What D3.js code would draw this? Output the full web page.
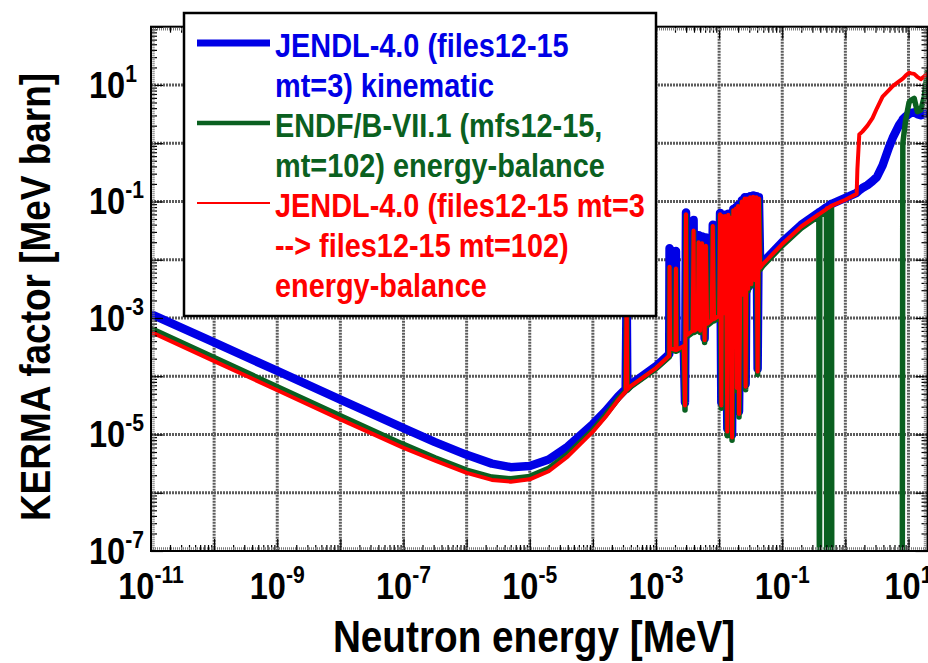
<!DOCTYPE html>
<html>
<head>
<meta charset="utf-8">
<script src="https://cdn.jsdelivr.net/npm/d3@7"></script>
<style>
  body { margin: 0; background: #fff; }
  text { font-family: "Liberation Sans", Arial, sans-serif; font-weight: bold; }
</style>
</head>
<body>
<div id="chart"></div>
<script>
var width = 928,
    height = 663;

// plot frame (pixels)
var frameLeft = 151, frameRight = 927.5, frameTop = 26.7, frameBottom = 551;

// neutron energy grid [MeV], shared by the three curves
var energy = [
  1e-11, 1e-10, 1e-9, 1e-8, 1e-7, 3.16e-7, 1e-6, 2.51e-6, 5.01e-6, 1e-5,
  2.0e-5, 3.98e-5, 1e-4, 1.58e-4, 2.51e-4, 3.31e-4, 3.43e-4, 3.51e-4, 3.98e-4, 1e-3,
  1.62e-3, 1.64e-3, 1.68e-3, 2.04e-3, 2.07e-3, 2.11e-3, 2.75e-3, 2.88e-3, 2.99e-3, 3.05e-3,
  3.80e-3, 3.94e-3, 4.03e-3, 4.57e-3, 4.73e-3, 5.01e-3, 5.37e-3, 5.89e-3, 6.17e-3, 6.46e-3,
  7.59e-3, 7.94e-3, 8.32e-3, 1.0e-2, 1.035e-2, 1.084e-2, 1.122e-2, 1.175e-2, 1.245e-2, 1.303e-2,
  1.349e-2, 1.396e-2, 1.462e-2, 1.531e-2, 1.603e-2, 1.679e-2, 1.758e-2, 1.841e-2, 1.905e-2, 1.995e-2,
  2.065e-2, 2.163e-2, 2.291e-2, 2.399e-2, 2.541e-2, 2.630e-2, 2.754e-2, 2.884e-2, 3.090e-2, 3.236e-2,
  3.467e-2, 3.631e-2, 3.890e-2, 4.074e-2, 4.266e-2, 4.467e-2, 4.898e-2, 0.1, 0.2, 0.380,
  0.389, 0.394, 0.501, 0.507, 0.531, 0.537, 0.603, 0.610, 1.0, 1.51,
  1.55, 1.66, 1.86, 2.24, 2.69, 3.16, 3.89, 4.90, 5.62, 7.08,
  7.94, 8.13, 9.02, 10.2, 11.0, 12.3, 13.8, 15.7, 17.8, 20
];

// JENDL-4.0 (files12-15 mt=3) kinematic  [MeV barn]
var kermaJendlKinematic = [
  1.17e-3, 3.80e-4, 1.23e-4, 3.98e-5, 1.29e-5, 7.41e-6, 4.47e-6, 3.16e-6, 2.75e-6, 2.88e-6,
  3.72e-6, 6.17e-6, 1.51e-5, 2.51e-5, 4.47e-5, 6.03e-5, 3.16e-3, 6.31e-5, 7.24e-5, 1.48e-4,
  2.40e-4, 1.58e-2, 3.24e-4, 3.02e-4, 1.41e-2, 3.02e-4, 3.55e-4, 3.55e-5, 6.46e-2, 5.37e-4,
  6.46e-4, 4.79e-2, 6.46e-4, 7.08e-4, 2.63e-2, 6.46e-4, 2.51e-2, 4.47e-4, 2.40e-2, 8.51e-4,
  9.77e-4, 3.98e-2, 1.02e-3, 1.17e-3, 6.31e-2, 3.55e-5, 5.89e-2, 1.29e-3, 5.89e-2, 1.41e-3,
  1.26e-5, 6.17e-2, 1.55e-3, 5.50e-2, 1.0e-5, 7.41e-2, 1.86e-3, 7.94e-2, 7.08e-5, 8.71e-2,
  2.51e-5, 2.40e-3, 0.105, 2.69e-3, 0.118, 7.41e-5, 0.118, 3.39e-3, 0.123, 4.07e-3,
  0.126, 4.79e-3, 0.123, 1.35e-4, 0.118, 7.76e-3, 8.91e-3, 2.0e-2, 3.98e-2, 6.46e-2,
  6.61e-2, 6.61e-2, 7.94e-2, 7.94e-2, 8.13e-2, 8.32e-2, 9.12e-2, 9.12e-2, 0.115, 0.141,
  0.145, 0.155, 0.170, 0.191, 0.224, 0.263, 0.417, 0.851, 1.23, 2.04,
  2.45, 2.57, 2.88, 3.16, 3.31, 3.39, 3.16, 3.02, 3.16, 3.31
];

// ENDF/B-VII.1 (mfs12-15, mt=102) energy-balance  (1e-9 = below the axis)
var kermaEndf = [
  6.61e-4, 2.09e-4, 6.61e-5, 2.09e-5, 6.76e-6, 3.98e-6, 2.45e-6, 1.86e-6, 1.74e-6, 1.91e-6,
  2.63e-6, 4.57e-6, 1.20e-5, 2.14e-5, 4.07e-5, 5.62e-5, 3.16e-3, 5.75e-5, 6.61e-5, 1.35e-4,
  2.14e-4, 7.24e-3, 2.88e-4, 2.69e-4, 6.76e-3, 2.69e-4, 3.16e-4, 2.63e-5, 5.75e-2, 4.68e-4,
  5.62e-4, 3.02e-2, 5.62e-4, 6.17e-4, 1.91e-2, 5.62e-4, 1.82e-2, 3.80e-4, 1.66e-2, 7.41e-4,
  8.51e-4, 3.63e-2, 8.91e-4, 1.02e-3, 5.75e-2, 2.82e-5, 5.37e-2, 1.12e-3, 5.37e-2, 1.23e-3,
  9.55e-6, 5.62e-2, 1.35e-3, 5.01e-2, 7.94e-6, 6.76e-2, 1.62e-3, 7.24e-2, 5.62e-5, 7.94e-2,
  2.0e-5, 2.09e-3, 9.55e-2, 2.34e-3, 0.107, 5.89e-5, 0.107, 2.95e-3, 0.112, 3.55e-3,
  0.115, 4.17e-3, 0.112, 1.07e-4, 0.107, 6.76e-3, 7.76e-3, 1.74e-2, 3.47e-2, 5.62e-2,
  1e-9, 5.75e-2, 6.92e-2, 1e-9, 1e-9, 7.24e-2, 7.94e-2, 1e-9, 1e-9, 1e-9,
  1e-9, 1e-9, 1e-9, 1e-9, 1e-9, 1e-9, 1e-9, 1e-9, 1e-9, 1e-9,
  1e-9, 1.0, 2.51, 5.01, 5.50, 5.89, 3.47, 3.72, 6.31, 17.8
];

// JENDL-4.0 (files12-15 mt=3 --> files12-15 mt=102) energy-balance
var kermaJendlBalance = [
  5.75e-4, 1.82e-4, 5.75e-5, 1.82e-5, 5.89e-6, 3.55e-6, 2.19e-6, 1.66e-6, 1.55e-6, 1.70e-6,
  2.34e-6, 4.17e-6, 1.12e-5, 2.0e-5, 3.89e-5, 5.50e-5, 3.16e-3, 5.89e-5, 6.76e-5, 1.38e-4,
  2.24e-4, 7.59e-3, 3.02e-4, 2.82e-4, 7.08e-3, 2.82e-4, 3.31e-4, 3.16e-5, 6.03e-2, 5.01e-4,
  6.03e-4, 3.16e-2, 6.03e-4, 6.61e-4, 2.0e-2, 6.03e-4, 1.91e-2, 4.17e-4, 1.74e-2, 7.94e-4,
  9.12e-4, 3.80e-2, 9.55e-4, 1.10e-3, 6.03e-2, 3.16e-5, 5.62e-2, 1.20e-3, 5.62e-2, 1.32e-3,
  1.12e-5, 5.89e-2, 1.45e-3, 5.25e-2, 8.91e-6, 7.08e-2, 1.74e-3, 7.59e-2, 6.31e-5, 8.32e-2,
  2.24e-5, 2.24e-3, 0.1, 2.51e-3, 0.112, 6.61e-5, 0.112, 3.16e-3, 0.118, 3.80e-3,
  0.120, 4.47e-3, 0.118, 1.20e-4, 0.112, 7.24e-3, 8.32e-3, 1.86e-2, 3.72e-2, 6.03e-2,
  6.17e-2, 6.17e-2, 7.41e-2, 7.59e-2, 7.76e-2, 7.76e-2, 8.51e-2, 8.51e-2, 0.107, 0.135,
  0.355, 1.41, 1.58, 2.0, 2.69, 3.98, 6.31, 8.13, 9.55, 11.5,
  12.6, 12.9, 14.5, 16.2, 15.8, 15.5, 13.8, 12.6, 14.1, 15.8
];

var xTickExponents = [-11, -9, -7, -5, -3, -1, 1];
var yTickExponents = [1, -1, -3, -5, -7];

var legendLabels = [
  ["JENDL-4.0 (files12-15", "mt=3) kinematic"],
  ["ENDF/B-VII.1 (mfs12-15,", "mt=102) energy-balance"],
  ["JENDL-4.0 (files12-15 mt=3", "--> files12-15 mt=102)", "energy-balance"]
];

var series = [
  {values: kermaJendlKinematic, color: "#0000e6", width: 8.5, legendWidth: 7},
  {values: kermaEndf, color: "#0a6020", width: 5.5, legendWidth: 4.5},
  {values: kermaJendlBalance, color: "#ff0000", width: 4, legendWidth: 2.2}
];

var squeeze = 0.88; // the original lettering is narrow

var svg = d3.select("#chart")
  .append("svg")
    .attr("width", width)
    .attr("height", height);

var x = d3.scaleLog().domain([1e-11, 20]).range([frameLeft, frameRight]);
var y = d3.scaleLog().domain([1e-7, 1e2]).range([frameBottom, frameTop]);

// grid lines at every decade
var xDecades = d3.range(-10, 2).map(function(k) { return Math.pow(10, k); });
var yDecades = d3.range(-6, 2).map(function(k) { return Math.pow(10, k); });

var grid = svg.append("g")
  .attr("stroke", "#5c5c5c")
  .attr("stroke-width", 3)
  .attr("stroke-dasharray", "2,1");

grid.selectAll(".gx").data(xDecades).enter().append("line")
  .attr("x1", function(d) { return x(d); })
  .attr("x2", function(d) { return x(d); })
  .attr("y1", frameTop).attr("y2", frameBottom);

grid.selectAll(".gy").data(yDecades).enter().append("line")
  .attr("y1", function(d) { return y(d); })
  .attr("y2", function(d) { return y(d); })
  .attr("x1", frameLeft).attr("x2", frameRight);

// curves
svg.append("clipPath").attr("id", "plotclip")
  .append("rect")
    .attr("x", frameLeft).attr("y", frameTop)
    .attr("width", frameRight - frameLeft).attr("height", frameBottom - frameTop);

var line = d3.line()
  .x(function(d) { return x(d[0]); })
  .y(function(d) { return y(d[1]); });

svg.append("g")
  .attr("clip-path", "url(#plotclip)")
  .selectAll("path")
  .data(series)
  .enter()
  .append("path")
    .attr("d", function(s) { return line(d3.zip(energy, s.values)); })
    .attr("fill", "none")
    .attr("stroke", function(s) { return s.color; })
    .attr("stroke-width", function(s) { return s.width; })
    .attr("stroke-linejoin", "round");

// frame and ticks (inward on all four sides)
var minorX = [], minorY = [];
d3.range(-11, 2).forEach(function(k) {
  d3.range(2, 10).forEach(function(m) {
    var v = m * Math.pow(10, k);
    if (v < 20) minorX.push(v);
  });
});
d3.range(-7, 2).forEach(function(k) {
  d3.range(2, 10).forEach(function(m) { minorY.push(m * Math.pow(10, k)); });
});
var majorX = d3.range(-11, 2).map(function(k) { return Math.pow(10, k); });
var majorY = d3.range(-7, 3).map(function(k) { return Math.pow(10, k); });

function drawAxis(axisFn, scale, values, size, transform) {
  var g = svg.append("g")
    .attr("transform", transform)
    .call(axisFn(scale).tickValues(values).tickSize(-size).tickSizeOuter(0).tickFormat(""));
  g.select(".domain").remove();
  g.selectAll("line").attr("stroke", "#000").attr("stroke-width", 1.2);
}

[[minorX, 6], [majorX, 12]].forEach(function(p) {
  drawAxis(d3.axisBottom, x, p[0], p[1], "translate(0," + frameBottom + ")");
  drawAxis(d3.axisTop, x, p[0], p[1], "translate(0," + frameTop + ")");
});
[[minorY, 6], [majorY, 12]].forEach(function(p) {
  drawAxis(d3.axisLeft, y, p[0], p[1], "translate(" + frameLeft + ",0)");
  drawAxis(d3.axisRight, y, p[0], p[1], "translate(" + frameRight + ",0)");
});

// fine hatching just inside the frame
var hatch = svg.append("g")
  .attr("stroke", "#7a7a7a")
  .attr("stroke-width", 2.5)
  .attr("stroke-dasharray", "1,1");
hatch.append("line").attr("x1", frameLeft).attr("x2", frameRight)
  .attr("y1", frameBottom - 2.5).attr("y2", frameBottom - 2.5);
hatch.append("line").attr("x1", frameLeft).attr("x2", frameRight)
  .attr("y1", frameTop + 2.5).attr("y2", frameTop + 2.5);
hatch.append("line").attr("y1", frameTop).attr("y2", frameBottom)
  .attr("x1", frameLeft + 2.5).attr("x2", frameLeft + 2.5);
hatch.append("line").attr("y1", frameTop).attr("y2", frameBottom)
  .attr("x1", frameRight - 2.5).attr("x2", frameRight - 2.5);

svg.append("rect")
  .attr("x", frameLeft).attr("y", frameTop)
  .attr("width", frameRight - frameLeft).attr("height", frameBottom - frameTop)
  .attr("fill", "none")
  .attr("stroke", "#000")
  .attr("stroke-width", 2);

// tick labels as 10^n
function powerLabel(g, px, py, exp, anchor) {
  var t = g.append("text")
    .attr("transform", "translate(" + px + "," + py + ") scale(" + squeeze + ",1)")
    .attr("text-anchor", anchor)
    .attr("font-size", 37);
  t.append("tspan").text("10");
  t.append("tspan").attr("dy", -16).attr("font-size", 24).text(exp);
}

var labels = svg.append("g").attr("fill", "#000");
xTickExponents.forEach(function(k) {
  powerLabel(labels, x(Math.pow(10, k)), 599, k, "middle");
});
yTickExponents.forEach(function(k) {
  powerLabel(labels, 89, y(Math.pow(10, k)) + 13, k, "start");
});

// axis titles
svg.append("text")
  .attr("transform", "translate(534,652) scale(" + squeeze + ",1)")
  .attr("text-anchor", "middle")
  .attr("font-size", 44)
  .text("Neutron energy [MeV]");

svg.append("text")
  .attr("transform", "translate(50,297) rotate(-90) scale(" + squeeze + ",1)")
  .attr("text-anchor", "middle")
  .attr("font-size", 42)
  .text("KERMA factor [MeV barn]");

// legend
var legend = svg.append("g");
legend.append("rect")
  .attr("x", 184).attr("y", 13)
  .attr("width", 472).attr("height", 303)
  .attr("fill", "#fff")
  .attr("stroke", "#000")
  .attr("stroke-width", 2.5);

var row = 0;
series.forEach(function(s, i) {
  var baseY = 57 + row * 40;
  legend.append("line")
    .attr("x1", 197).attr("x2", 270)
    .attr("y1", baseY - 14).attr("y2", baseY - 14)
    .attr("stroke", s.color)
    .attr("stroke-width", s.legendWidth);
  legendLabels[i].forEach(function(txt) {
    legend.append("text")
      .attr("transform", "translate(275," + (57 + row * 40) + ") scale(0.875,1)")
      .attr("font-size", 33)
      .attr("fill", s.color)
      .text(txt);
    row++;
  });
});
</script>
</body>
</html>
